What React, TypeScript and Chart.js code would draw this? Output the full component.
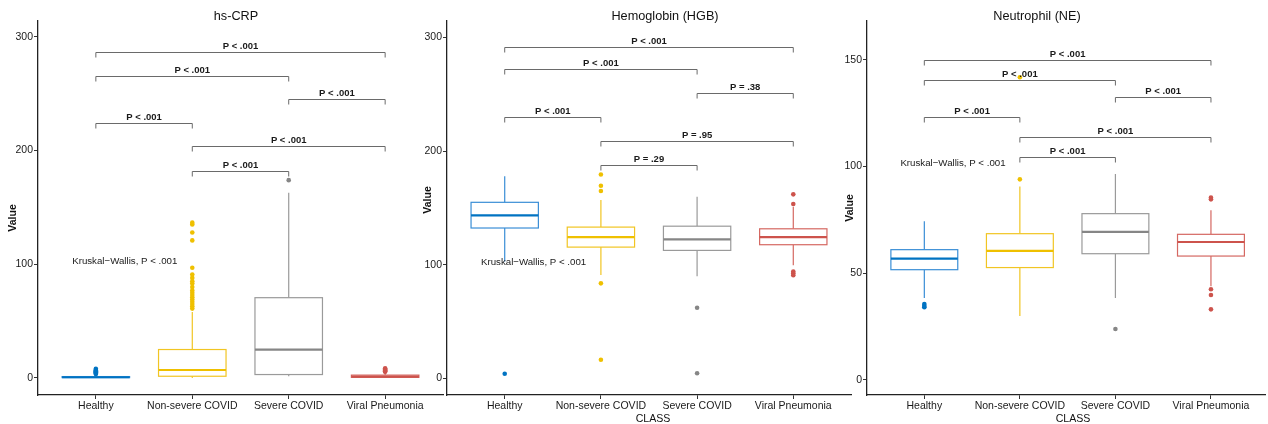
import React, { useEffect, useRef } from "react";
import { Chart, registerables } from "chart.js";

Chart.register(...registerables);

const W = 1268;
const H = 424;
const FONT = '"Liberation Sans", Arial, Helvetica, sans-serif';

// ---------- shared ----------
const categories = ["Healthy", "Non-severe COVID", "Severe COVID", "Viral Pneumonia"];
const groupColors = ["#0073C2", "#EFC000", "#868686", "#CD534C"];
const boxEdgeColors = ["#3A8ED6", "#F1C523", "#9A9A9A", "#D56862"];
const bracketPairs = [
  [0, 3],
  [0, 2],
  [2, 3],
  [0, 1],
  [1, 3],
  [1, 2],
];
const kruskalText = "Kruskal\u2212Wallis, P < .001";

// ---------- hs-CRP ----------
const crpTitle = "hs-CRP";
const crpYTicks = [0, 100, 200, 300];
const crpWhiskerLow = [0, 0, 1.5, 0];
const crpQ1 = [0.3, 1.5, 3, 0.5];
const crpMedian = [0.6, 7, 25, 1.2];
const crpQ3 = [1.2, 25, 70.6, 2.5];
const crpWhiskerHigh = [3, 58, 163, 5];
const crpOutliers = [
  [3.5, 4, 4.5, 5, 5.5, 6, 6.5, 7, 8],
  [61, 63, 65, 67, 69, 71, 73, 75, 77, 80, 83, 85, 88, 91, 97, 121, 128, 135, 136.6],
  [174],
  [5.5, 6, 6.5, 7, 7.5, 8.5],
];
const crpBracketY = [287, 265.6, 245.4, 224, 204, 182.3];
const crpBracketLabels = ["P < .001", "P < .001", "P < .001", "P < .001", "P < .001", "P < .001"];
const crpKruskalX = 0.3;
const crpKruskalY = 102.6;

// ---------- Hemoglobin ----------
const hgbTitle = "Hemoglobin (HGB)";
const hgbYTicks = [0, 100, 200, 300];
const hgbWhiskerLow = [103, 91, 90, 99.6];
const hgbQ1 = [132.4, 115.6, 112.7, 117.7];
const hgbMedian = [143.5, 124.4, 122.4, 124.4];
const hgbQ3 = [155, 133.2, 134, 131.7];
const hgbWhiskerHigh = [178, 157, 160, 151];
const hgbOutliers = [
  [4.2],
  [179.5, 169.6, 165, 83.7, 16.5],
  [62.3, 4.6],
  [162, 153.5, 94.2, 92.5, 90.9],
];
const hgbBracketY = [291.8, 272, 250.8, 230.3, 208.8, 188];
const hgbBracketLabels = ["P < .001", "P < .001", "P = .38", "P < .001", "P = .95", "P = .29"];
const hgbKruskalX = 0.3;
const hgbKruskalY = 101.8;

// ---------- Neutrophil ----------
const neTitle = "Neutrophil (NE)";
const neYTicks = [0, 50, 100, 150];
const neWhiskerLow = [38.3, 29.9, 38.3, 43.8];
const neQ1 = [51.6, 52.6, 59.1, 58];
const neMedian = [56.8, 60.4, 69.3, 64.6];
const neQ3 = [61, 68.5, 77.9, 68.2];
const neWhiskerHigh = [74.3, 90.6, 96.5, 79.5];
const neOutliers = [
  [35.5, 34.6, 34],
  [94, 141.9],
  [23.8],
  [84.6, 85.5, 42.4, 39.7, 33],
];
const neBracketY = [150, 140.6, 132.5, 123.1, 113.7, 104.4];
const neBracketLabels = ["P < .001", "P < .001", "P < .001", "P < .001", "P < .001", "P < .001"];
const neKruskalX = 0.3;
const neKruskalY = 101.5;

// ---------- panel configs (data + layout) ----------
const panels = [
  {
    title: crpTitle, yTicks: crpYTicks, wl: crpWhiskerLow, q1: crpQ1, med: crpMedian, q3: crpQ3,
    wh: crpWhiskerHigh, outliers: crpOutliers, bracketY: crpBracketY, bracketLabels: crpBracketLabels,
    kx: crpKruskalX, ky: crpKruskalY,
    yMin: -15, yMax: 314, left: 38, right: 443, xMax: 3.6,
    titleX: 236, valueX: 13, valueY: 218, showClass: false, classX: 0,
  },
  {
    title: hgbTitle, yTicks: hgbYTicks, wl: hgbWhiskerLow, q1: hgbQ1, med: hgbMedian, q3: hgbQ3,
    wh: hgbWhiskerHigh, outliers: hgbOutliers, bracketY: hgbBracketY, bracketLabels: hgbBracketLabels,
    kx: hgbKruskalX, ky: hgbKruskalY,
    yMin: -14.5, yMax: 314.5, left: 447, right: 851, xMax: 3.6,
    titleX: 665, valueX: 428, valueY: 200, showClass: true, classX: 653,
  },
  {
    title: neTitle, yTicks: neYTicks, wl: neWhiskerLow, q1: neQ1, med: neMedian, q3: neQ3,
    wh: neWhiskerHigh, outliers: neOutliers, bracketY: neBracketY, bracketLabels: neBracketLabels,
    kx: neKruskalX, ky: neKruskalY,
    yMin: -7.2, yMax: 168.3, left: 867, right: 1268, xMax: 3.573,
    titleX: 1037, valueX: 850, valueY: 208, showClass: true, classX: 1073,
  },
];

type PanelCfg = (typeof panels)[number];

function Panel({ cfg, idx }: { cfg: PanelCfg; idx: number }) {
  const ref = useRef<HTMLCanvasElement | null>(null);

  useEffect(() => {
    const canvas = ref.current;
    if (!canvas) return;

    const boxPlugin = {
      id: "boxplot" + idx,
      beforeDatasetsDraw(chart: any) {
        const { ctx } = chart;
        const x = chart.scales.x;
        const y = chart.scales.y;
        ctx.save();
        for (let i = 0; i < categories.length; i++) {
          const cx = x.getPixelForValue(i);
          const hw = x.getPixelForValue(i + 0.35) - cx;
          const yq1 = y.getPixelForValue(cfg.q1[i]);
          const yq3 = y.getPixelForValue(cfg.q3[i]);
          const ymed = y.getPixelForValue(cfg.med[i]);
          const ywl = y.getPixelForValue(cfg.wl[i]);
          const ywh = y.getPixelForValue(cfg.wh[i]);
          ctx.strokeStyle = boxEdgeColors[i];
          ctx.lineWidth = 1.2;
          ctx.beginPath();
          ctx.moveTo(cx, ywl);
          ctx.lineTo(cx, yq1);
          ctx.moveTo(cx, yq3);
          ctx.lineTo(cx, ywh);
          ctx.stroke();
          ctx.fillStyle = "#ffffff";
          ctx.fillRect(cx - hw, yq3, 2 * hw, yq1 - yq3);
          ctx.strokeRect(cx - hw, yq3, 2 * hw, yq1 - yq3);
          ctx.strokeStyle = groupColors[i];
          ctx.lineWidth = 2.2;
          ctx.beginPath();
          ctx.moveTo(cx - hw, ymed);
          ctx.lineTo(cx + hw, ymed);
          ctx.stroke();
        }
        ctx.restore();
      },
      afterDatasetsDraw(chart: any) {
        const { ctx } = chart;
        const x = chart.scales.x;
        const y = chart.scales.y;
        ctx.save();
        // significance brackets
        for (let k = 0; k < bracketPairs.length; k++) {
          const [a, b] = bracketPairs[k];
          const xa = x.getPixelForValue(a);
          const xb = x.getPixelForValue(b);
          const yy = Math.round(y.getPixelForValue(cfg.bracketY[k])) + 0.5;
          ctx.strokeStyle = "#6a6a6a";
          ctx.lineWidth = 1;
          ctx.beginPath();
          ctx.moveTo(xa, yy + 5);
          ctx.lineTo(xa, yy);
          ctx.lineTo(xb, yy);
          ctx.lineTo(xb, yy + 5);
          ctx.stroke();
          ctx.fillStyle = "#1a1a1a";
          ctx.font = "bold 9.5px " + FONT;
          ctx.textAlign = "center";
          ctx.textBaseline = "alphabetic";
          ctx.fillText(cfg.bracketLabels[k], (xa + xb) / 2, yy - 4);
        }
        // Kruskal-Wallis label
        ctx.fillStyle = "#1a1a1a";
        ctx.font = "9.7px " + FONT;
        ctx.textAlign = "center";
        ctx.textBaseline = "middle";
        ctx.fillText(kruskalText, x.getPixelForValue(cfg.kx), y.getPixelForValue(cfg.ky));
        ctx.restore();
      },
      afterDraw(chart: any) {
        const { ctx } = chart;
        ctx.save();
        ctx.fillStyle = "#111111";
        ctx.font = "12.7px " + FONT;
        ctx.textAlign = "center";
        ctx.textBaseline = "alphabetic";
        ctx.fillText(cfg.title, cfg.titleX, 20);
        // y axis title
        ctx.save();
        ctx.translate(cfg.valueX, cfg.valueY);
        ctx.rotate(-Math.PI / 2);
        ctx.font = "bold 10.5px " + FONT;
        ctx.textBaseline = "middle";
        ctx.fillText("Value", 0, 0);
        ctx.restore();
        if (cfg.showClass) {
          ctx.font = "10.6px " + FONT;
          ctx.textBaseline = "alphabetic";
          ctx.fillText("CLASS", cfg.classX, 421.5);
        }
        ctx.restore();
      },
    };

    const chart = new Chart(canvas, {
      type: "scatter",
      data: {
        datasets: cfg.outliers.map((vals: number[], i: number) => ({
          data: vals.map((v) => ({ x: i, y: v })),
          backgroundColor: groupColors[i],
          borderColor: groupColors[i],
          borderWidth: 0,
          pointRadius: 2.3,
          pointHoverRadius: 2.3,
        })),
      },
      options: {
        responsive: false,
        animation: false,
        devicePixelRatio: 1,
        events: [],
        layout: {
          padding: { left: cfg.left - 30, right: W - cfg.right, top: 21, bottom: 9 },
        },
        plugins: {
          legend: { display: false },
          tooltip: { enabled: false },
          title: { display: false },
        },
        scales: {
          x: {
            type: "linear",
            min: -0.6,
            max: cfg.xMax,
            afterFit: (s: any) => {
              s.height = 20;
            },
            afterBuildTicks: (s: any) => {
              s.ticks = categories.map((_, i) => ({ value: i }));
            },
            ticks: {
              callback: (v: any) => categories[Number(v)] ?? "",
              autoSkip: false,
              maxRotation: 0,
              minRotation: 0,
              padding: 1,
              color: "#1a1a1a",
              font: { family: FONT, size: 10.5 },
            },
            grid: { drawOnChartArea: false, drawTicks: true, tickLength: 4, color: "#333333", lineWidth: 1 },
            border: { display: true, color: "#222222", width: 1.3 },
          },
          y: {
            type: "linear",
            min: cfg.yMin,
            max: cfg.yMax,
            afterFit: (s: any) => {
              s.width = 30;
            },
            afterBuildTicks: (s: any) => {
              s.ticks = cfg.yTicks.map((v: number) => ({ value: v }));
            },
            ticks: {
              callback: (v: any) => String(v),
              padding: 1,
              color: "#1a1a1a",
              font: { family: FONT, size: 10.5 },
            },
            grid: { drawOnChartArea: false, drawTicks: true, tickLength: 4, color: "#333333", lineWidth: 1 },
            border: { display: true, color: "#222222", width: 1.3 },
          },
        },
      } as any,
      plugins: [boxPlugin],
    });

    return () => {
      chart.destroy();
    };
  }, [cfg, idx]);

  return (
    <canvas
      ref={ref}
      width={W}
      height={H}
      style={{ position: "absolute", left: 0, top: 0, width: W, height: H }}
    />
  );
}

export default function App() {
  return (
    <div
      style={{
        position: "absolute",
        left: 0,
        top: 0,
        width: W,
        height: H,
        overflow: "hidden",
        background: "#ffffff",
      }}
    >
      {panels.map((p, i) => (
        <Panel key={i} cfg={p} idx={i} />
      ))}
    </div>
  );
}
